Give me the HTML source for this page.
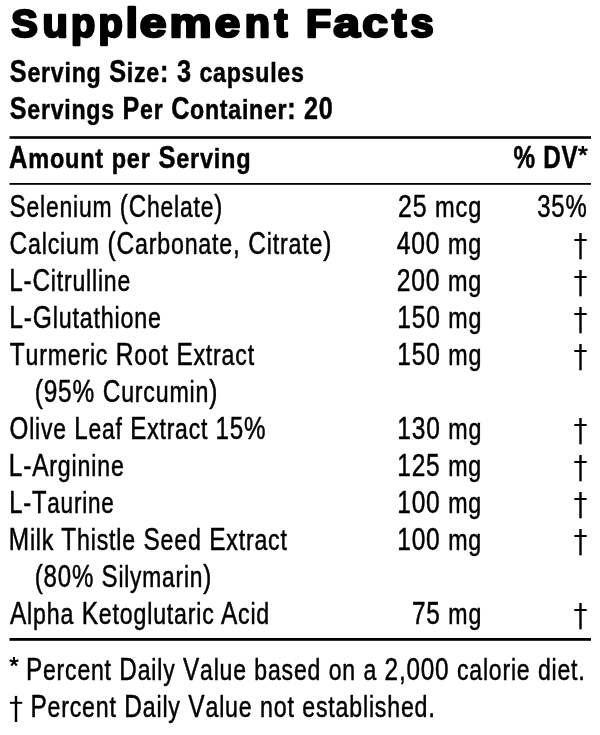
<!DOCTYPE html>
<html><head><meta charset="utf-8"><style>
html,body{margin:0;padding:0;background:#fff;width:600px;height:735px;overflow:hidden}
svg{display:block;filter:blur(0.35px)}
text{font-family:"Liberation Sans",sans-serif;fill:#000}
</style></head><body>
<svg width="600" height="735" viewBox="0 0 600 735">
<rect x="9.5" y="136.2" width="581.5" height="2.6" fill="#000"/><rect x="9.5" y="183" width="581.5" height="1.8" fill="#000"/><rect x="9.5" y="638" width="581.5" height="2.8" fill="#000"/><g fill="#000" class="shp"><rect x="579.30" y="233.00" width="2.4" height="26.30"/><rect x="574.30" y="239.00" width="12.40" height="2"/><rect x="579.30" y="270.00" width="2.4" height="26.30"/><rect x="574.30" y="276.00" width="12.40" height="2"/><rect x="579.30" y="307.00" width="2.4" height="26.30"/><rect x="574.30" y="313.00" width="12.40" height="2"/><rect x="579.30" y="344.00" width="2.4" height="26.30"/><rect x="574.30" y="350.00" width="12.40" height="2"/><rect x="579.30" y="418.00" width="2.4" height="26.30"/><rect x="574.30" y="424.00" width="12.40" height="2"/><rect x="579.30" y="455.00" width="2.4" height="26.30"/><rect x="574.30" y="461.00" width="12.40" height="2"/><rect x="579.30" y="492.00" width="2.4" height="26.30"/><rect x="574.30" y="498.00" width="12.40" height="2"/><rect x="579.30" y="529.00" width="2.4" height="26.30"/><rect x="574.30" y="535.00" width="12.40" height="2"/><rect x="579.30" y="603.00" width="2.4" height="26.30"/><rect x="574.30" y="609.00" width="12.40" height="2"/><rect x="14.80" y="695.90" width="2.4" height="26.10"/><rect x="9.90" y="701.80" width="12.30" height="2"/><path d="M582.90 150.90L582.90 146.00M582.90 150.90L578.24 149.39M582.90 150.90L580.02 154.86M582.90 150.90L585.78 154.86M582.90 150.90L587.56 149.39" stroke="#000" stroke-width="2.4" fill="none"/><path d="M14.00 661.80L14.00 657.10M14.00 661.80L9.53 660.35M14.00 661.80L11.24 665.60M14.00 661.80L16.76 665.60M14.00 661.80L18.47 660.35" stroke="#000" stroke-width="2.1" fill="none"/></g>
<text transform="translate(11.250,36.5) scale(1.0063,1)" font-size="39.5" font-weight="700" stroke="#000" stroke-width="2.5" stroke-linejoin="round">S</text>
<text transform="translate(42.488,36.5) scale(1.0161,1)" font-size="40.8" font-weight="700" stroke="#000" stroke-width="2.5" stroke-linejoin="round">u</text>
<text transform="translate(71.048,36.5) scale(0.9738,1)" font-size="40.8" font-weight="700" stroke="#000" stroke-width="2.5" stroke-linejoin="round">p</text>
<text transform="translate(98.548,36.5) scale(0.9738,1)" font-size="40.8" font-weight="700" stroke="#000" stroke-width="2.5" stroke-linejoin="round">p</text>
<text transform="translate(125.845,36.5) scale(1.0661,1)" font-size="40.8" font-weight="700" stroke="#000" stroke-width="2.5" stroke-linejoin="round">l</text>
<text transform="translate(139.634,36.5) scale(1.1797,1)" font-size="40.8" font-weight="700" stroke="#000" stroke-width="2.5" stroke-linejoin="round">e</text>
<text transform="translate(169.567,36.5) scale(1.1587,1)" font-size="40.8" font-weight="700" stroke="#000" stroke-width="2.5" stroke-linejoin="round">m</text>
<text transform="translate(214.652,36.5) scale(1.1218,1)" font-size="40.8" font-weight="700" stroke="#000" stroke-width="2.5" stroke-linejoin="round">e</text>
<text transform="translate(244.748,36.5) scale(1.0125,1)" font-size="40.8" font-weight="700" stroke="#000" stroke-width="2.5" stroke-linejoin="round">n</text>
<text transform="translate(274.572,36.5) scale(0.9546,1)" font-size="40.8" font-weight="700" stroke="#000" stroke-width="2.5" stroke-linejoin="round">t</text>
<text transform="translate(305.950,36.5) scale(1.0436,1)" font-size="39.5" font-weight="700" stroke="#000" stroke-width="2.5" stroke-linejoin="round">F</text>
<text transform="translate(333.220,36.5) scale(1.1747,1)" font-size="40.8" font-weight="700" stroke="#000" stroke-width="2.5" stroke-linejoin="round">a</text>
<text transform="translate(362.174,36.5) scale(1.1349,1)" font-size="40.8" font-weight="700" stroke="#000" stroke-width="2.5" stroke-linejoin="round">c</text>
<text transform="translate(392.121,36.5) scale(1.0635,1)" font-size="40.8" font-weight="700" stroke="#000" stroke-width="2.5" stroke-linejoin="round">t</text>
<text transform="translate(410.537,36.5) scale(1.0190,1)" font-size="40.8" font-weight="700" stroke="#000" stroke-width="2.5" stroke-linejoin="round">s</text>
<text transform="translate(9.842,82) scale(0.8147,1)" font-size="31.0" font-weight="700" stroke="#000" stroke-width="0.5" stroke-linejoin="round" letter-spacing="0.9">S<tspan font-size="28.5">erving</tspan> S<tspan font-size="28.5">ize</tspan>: 3 <tspan font-size="28.5">capsules</tspan></text>
<text transform="translate(9.844,118.5) scale(0.8126,1)" font-size="31.0" font-weight="700" stroke="#000" stroke-width="0.5" stroke-linejoin="round" letter-spacing="0.9">S<tspan font-size="28.5">ervings</tspan> P<tspan font-size="28.5">er</tspan> C<tspan font-size="28.5">ontainer</tspan>: 20</text>
<text transform="translate(9.123,168) scale(0.8255,1)" font-size="31.0" font-weight="700" stroke="#000" stroke-width="0.5" stroke-linejoin="round" letter-spacing="0.9">A<tspan font-size="28.5">mount</tspan> <tspan font-size="28.5">per</tspan> S<tspan font-size="28.5">erving</tspan></text>
<text transform="translate(513.513,168) scale(0.7836,1)" font-size="31.0" font-weight="700" stroke="#000" stroke-width="0.5" stroke-linejoin="round" letter-spacing="0.9">% DV</text>
<text transform="translate(9.514,217) scale(0.7940,1)" font-size="30.5" font-weight="400" stroke="#000" stroke-width="0.5" stroke-linejoin="round" letter-spacing="1.0">S<tspan font-size="28.9">elenium</tspan> (C<tspan font-size="28.9">helate</tspan>)</text>
<text transform="translate(397.985,217) scale(0.8170,1)" font-size="30.5" font-weight="400" stroke="#000" stroke-width="0.5" stroke-linejoin="round" letter-spacing="1.0">25 <tspan font-size="28.9">mcg</tspan></text>
<text transform="translate(537.269,217) scale(0.7847,1)" font-size="30.5" font-weight="400" stroke="#000" stroke-width="0.5" stroke-linejoin="round" letter-spacing="1.0">35%</text>
<text transform="translate(9.502,254) scale(0.8034,1)" font-size="30.5" font-weight="400" stroke="#000" stroke-width="0.5" stroke-linejoin="round" letter-spacing="1.0">C<tspan font-size="28.9">alcium</tspan> (C<tspan font-size="28.9">arbonate</tspan>, C<tspan font-size="28.9">itrate</tspan>)</text>
<text transform="translate(396.760,254) scale(0.8090,1)" font-size="30.5" font-weight="400" stroke="#000" stroke-width="0.5" stroke-linejoin="round" letter-spacing="1.0">400 <tspan font-size="28.9">mg</tspan></text>
<text transform="translate(9.265,291) scale(0.7979,1)" font-size="30.5" font-weight="400" stroke="#000" stroke-width="0.5" stroke-linejoin="round" letter-spacing="1.0">L-C<tspan font-size="28.9">itrulline</tspan></text>
<text transform="translate(396.697,291) scale(0.8101,1)" font-size="30.5" font-weight="400" stroke="#000" stroke-width="0.5" stroke-linejoin="round" letter-spacing="1.0">200 <tspan font-size="28.9">mg</tspan></text>
<text transform="translate(9.247,328) scale(0.8063,1)" font-size="30.5" font-weight="400" stroke="#000" stroke-width="0.5" stroke-linejoin="round" letter-spacing="1.0">L-G<tspan font-size="28.9">lutathione</tspan></text>
<text transform="translate(397.250,328) scale(0.8050,1)" font-size="30.5" font-weight="400" stroke="#000" stroke-width="0.5" stroke-linejoin="round" letter-spacing="1.0">150 <tspan font-size="28.9">mg</tspan></text>
<text transform="translate(9.751,365) scale(0.8009,1)" font-size="30.5" font-weight="400" stroke="#000" stroke-width="0.5" stroke-linejoin="round" letter-spacing="1.0">T<tspan font-size="28.9">urmeric</tspan> R<tspan font-size="28.9">oot</tspan> E<tspan font-size="28.9">xtract</tspan></text>
<text transform="translate(397.250,365) scale(0.8050,1)" font-size="30.5" font-weight="400" stroke="#000" stroke-width="0.5" stroke-linejoin="round" letter-spacing="1.0">150 <tspan font-size="28.9">mg</tspan></text>
<text transform="translate(34.754,402) scale(0.8025,1)" font-size="30.5" font-weight="400" stroke="#000" stroke-width="0.5" stroke-linejoin="round" letter-spacing="1.0">(95% C<tspan font-size="28.9">urcumin</tspan>)</text>
<text transform="translate(9.514,439) scale(0.7939,1)" font-size="30.5" font-weight="400" stroke="#000" stroke-width="0.5" stroke-linejoin="round" letter-spacing="1.0">O<tspan font-size="28.9">live</tspan> L<tspan font-size="28.9">eaf</tspan> E<tspan font-size="28.9">xtract</tspan> 15%</text>
<text transform="translate(397.352,439) scale(0.8045,1)" font-size="30.5" font-weight="400" stroke="#000" stroke-width="0.5" stroke-linejoin="round" letter-spacing="1.0">130 <tspan font-size="28.9">mg</tspan></text>
<text transform="translate(8.752,476) scale(0.8039,1)" font-size="30.5" font-weight="400" stroke="#000" stroke-width="0.5" stroke-linejoin="round" letter-spacing="1.0">L-A<tspan font-size="28.9">rginine</tspan></text>
<text transform="translate(397.252,476) scale(0.8040,1)" font-size="30.5" font-weight="400" stroke="#000" stroke-width="0.5" stroke-linejoin="round" letter-spacing="1.0">125 <tspan font-size="28.9">mg</tspan></text>
<text transform="translate(9.305,513) scale(0.7796,1)" font-size="30.5" font-weight="400" stroke="#000" stroke-width="0.5" stroke-linejoin="round" letter-spacing="1.0">L-T<tspan font-size="28.9">aurine</tspan></text>
<text transform="translate(397.252,513) scale(0.8040,1)" font-size="30.5" font-weight="400" stroke="#000" stroke-width="0.5" stroke-linejoin="round" letter-spacing="1.0">100 <tspan font-size="28.9">mg</tspan></text>
<text transform="translate(8.758,550) scale(0.8013,1)" font-size="30.5" font-weight="400" stroke="#000" stroke-width="0.5" stroke-linejoin="round" letter-spacing="1.0">M<tspan font-size="28.9">ilk</tspan> T<tspan font-size="28.9">histle</tspan> S<tspan font-size="28.9">eed</tspan> E<tspan font-size="28.9">xtract</tspan></text>
<text transform="translate(397.252,550) scale(0.8040,1)" font-size="30.5" font-weight="400" stroke="#000" stroke-width="0.5" stroke-linejoin="round" letter-spacing="1.0">100 <tspan font-size="28.9">mg</tspan></text>
<text transform="translate(34.775,587) scale(0.7889,1)" font-size="30.5" font-weight="400" stroke="#000" stroke-width="0.5" stroke-linejoin="round" letter-spacing="1.0">(80% S<tspan font-size="28.9">ilymarin</tspan>)</text>
<text transform="translate(9.989,624) scale(0.8024,1)" font-size="30.5" font-weight="400" stroke="#000" stroke-width="0.5" stroke-linejoin="round" letter-spacing="1.0">A<tspan font-size="28.9">lpha</tspan> K<tspan font-size="28.9">etoglutaric</tspan> A<tspan font-size="28.9">cid</tspan></text>
<text transform="translate(412.006,624) scale(0.8003,1)" font-size="30.5" font-weight="400" stroke="#000" stroke-width="0.5" stroke-linejoin="round" letter-spacing="1.0">75 <tspan font-size="28.9">mg</tspan></text>
<text transform="translate(25.966,680) scale(0.7973,1)" font-size="30.5" font-weight="400" stroke="#000" stroke-width="0.5" stroke-linejoin="round" letter-spacing="1.0">P<tspan font-size="28.9">ercent</tspan> D<tspan font-size="28.9">aily</tspan> V<tspan font-size="28.9">alue</tspan> <tspan font-size="28.9">based</tspan> <tspan font-size="28.9">on</tspan> <tspan font-size="28.9">a</tspan> 2,000 <tspan font-size="28.9">calorie</tspan> <tspan font-size="28.9">diet</tspan>.</text>
<text transform="translate(30.404,717) scale(0.8018,1)" font-size="30.5" font-weight="400" stroke="#000" stroke-width="0.5" stroke-linejoin="round" letter-spacing="1.0">P<tspan font-size="28.9">ercent</tspan> D<tspan font-size="28.9">aily</tspan> V<tspan font-size="28.9">alue</tspan> <tspan font-size="28.9">not</tspan> <tspan font-size="28.9">established</tspan>.</text>
</svg>
</body></html>
